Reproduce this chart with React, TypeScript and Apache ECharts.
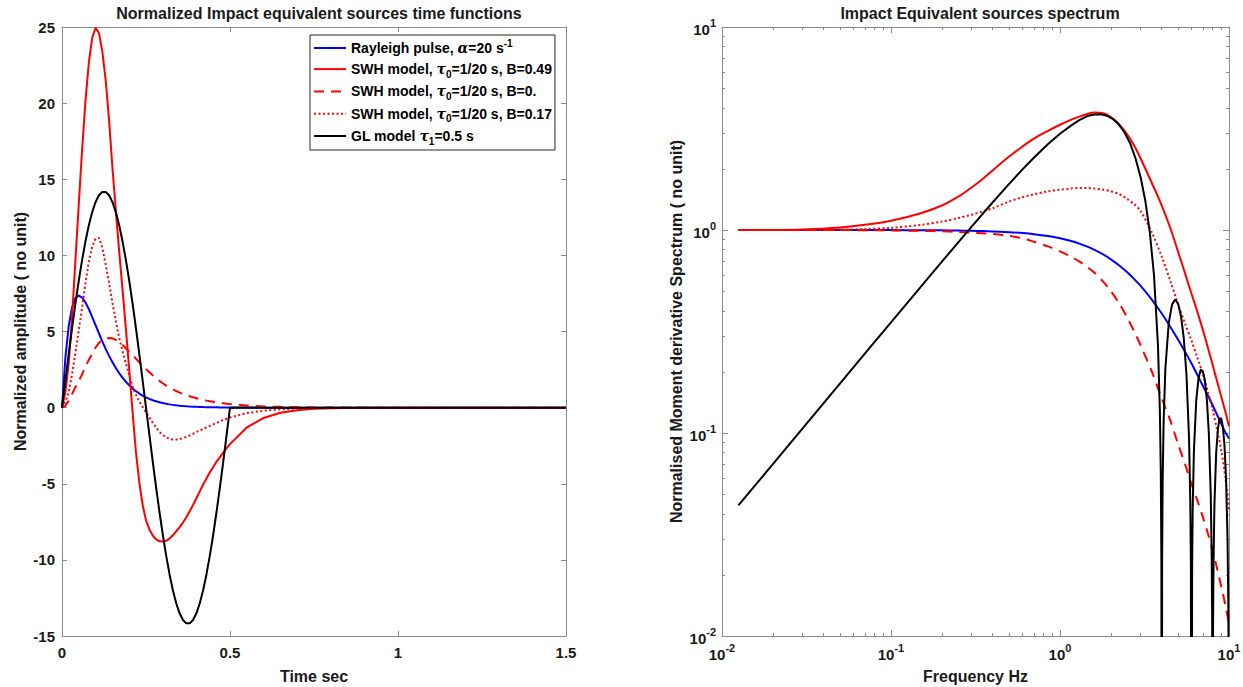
import React, { useEffect, useRef } from "react";
import * as echarts from "echarts";

// ---------- Left panel: time functions ----------
const TIME = [
  0, 0.01, 0.02, 0.03, 0.04, 0.05, 0.06, 0.07, 0.08, 0.09,
  0.1, 0.11, 0.12, 0.13, 0.14, 0.15, 0.16, 0.17, 0.18, 0.19,
  0.2, 0.21, 0.22, 0.23, 0.24, 0.25, 0.26, 0.27, 0.28, 0.29,
  0.3, 0.31, 0.32, 0.33, 0.34, 0.35, 0.36, 0.37, 0.38, 0.39,
  0.4, 0.41, 0.42, 0.43, 0.44, 0.45, 0.46, 0.47, 0.48, 0.49,
  0.5, 0.55, 0.6, 0.65, 0.7, 0.75, 0.8, 0.9, 1.0, 1.5,
];
const RAYLEIGH = [
  0, 3.27, 5.36, 6.59, 7.19, 7.36, 7.23, 6.9, 6.46, 5.95,
  5.41, 4.88, 4.35, 3.86, 3.4, 2.99, 2.61, 2.27, 1.97, 1.7,
  1.47, 1.26, 1.08, 0.925, 0.79, 0.67, 0.574, 0.488, 0.414, 0.351,
  0.3, 0.252, 0.213, 0.18, 0.151, 0.128, 0.108, 0.09, 0.076, 0.064,
  0.054, 0.045, 0.038, 0.032, 0.026, 0.022, 0.019, 0.015, 0.013, 0.011,
  0.009, 0.004, 0.001, 0, 0, 0, 0, 0, 0, 0,
];
const SWH_049 = [
  0, 1.0, 2.9, 6.0, 9.7, 13.4, 17.0, 20.2, 22.7, 24.3,
  24.95, 24.6, 23.4, 21.5, 18.9, 15.8, 13.0, 10.3, 7.8, 5.2,
  2.5, -0.3, -2.9, -4.9, -6.4, -7.4, -8.0, -8.4, -8.65, -8.78,
  -8.8, -8.75, -8.6, -8.38, -8.12, -7.85, -7.55, -7.2, -6.8, -6.4,
  -5.95, -5.5, -5.05, -4.65, -4.25, -3.9, -3.55, -3.25, -2.95, -2.65,
  -2.4, -1.3, -0.68, -0.34, -0.17, -0.08, -0.04, -0.01, 0, 0,
];
const SWH_0 = [
  0, 0.12, 0.45, 0.9, 1.35, 1.75, 2.2, 2.7, 3.15, 3.55,
  3.95, 4.25, 4.45, 4.55, 4.58, 4.55, 4.45, 4.3, 4.12, 3.9,
  3.68, 3.45, 3.22, 2.98, 2.75, 2.53, 2.32, 2.12, 1.93, 1.76,
  1.6, 1.45, 1.32, 1.2, 1.09, 0.99, 0.9, 0.82, 0.75, 0.68,
  0.62, 0.56, 0.51, 0.46, 0.42, 0.38, 0.34, 0.31, 0.28, 0.25,
  0.23, 0.14, 0.08, 0.05, 0.03, 0.015, 0.01, 0, 0, 0,
];
const SWH_017 = [
  0, 0.4, 1.0, 2.2, 3.6, 5.1, 6.6, 8.2, 9.6, 10.6,
  11.1, 11.15, 10.5, 9.4, 8.2, 6.9, 5.7, 4.6, 3.7, 2.9,
  2.1, 1.4, 0.85, 0.4, 0.05, -0.3, -0.65, -1.0, -1.3, -1.6,
  -1.8, -1.95, -2.05, -2.1, -2.1, -2.07, -2.0, -1.92, -1.83, -1.72,
  -1.6, -1.5, -1.4, -1.3, -1.2, -1.1, -1.0, -0.9, -0.81, -0.73,
  -0.65, -0.36, -0.2, -0.12, -0.06, -0.03, -0.015, 0, 0, 0,
];
const GL_TIME = [
  0, 1.78, 3.53, 5.23, 6.84, 8.35, 9.72, 10.94, 11.99, 12.85,
  13.51, 13.95, 14.17, 14.17, 13.95, 13.51, 12.85, 11.99, 10.94, 9.72,
  8.35, 6.84, 5.23, 3.53, 1.78, 0, -1.78, -3.53, -5.23, -6.84,
  -8.35, -9.72, -10.94, -11.99, -12.85, -13.51, -13.95, -14.17, -14.17, -13.95,
  -13.51, -12.85, -11.99, -10.94, -9.72, -8.35, -6.84, -5.23, -3.53, -1.78,
  0, 0, 0, 0, 0, 0, 0, 0, 0, 0,
];

// ---------- Right panel: spectra ----------
const FREQ = [
  0.0125, 0.02, 0.03, 0.05, 0.07, 0.1, 0.15, 0.2, 0.25, 0.3,
  0.35, 0.4, 0.5, 0.6, 0.7, 0.85, 1, 1.15, 1.3, 1.45,
  1.6, 1.8, 2, 2.25, 2.5, 2.75, 3, 3.5, 4, 4.5,
  5, 5.5, 6, 6.5, 7, 7.5, 8, 8.5, 9, 9.5,
  10,
];
const SPEC_RAYLEIGH = [
  1.0, 1.0, 1.0, 0.9998, 0.9995, 0.999, 0.9978, 0.996, 0.9939, 0.9912,
  0.988, 0.9845, 0.976, 0.9657, 0.954, 0.9334, 0.91, 0.8846, 0.857, 0.828,
  0.798, 0.758, 0.717, 0.667, 0.619, 0.5726, 0.53, 0.453, 0.388, 0.333,
  0.288, 0.251, 0.22, 0.193, 0.171, 0.153, 0.137, 0.123, 0.111, 0.101,
  0.094,
];
const SPEC_SWH_049 = [
  1.0, 1.0, 1.005, 1.03, 1.06, 1.11, 1.21, 1.32, 1.46, 1.62,
  1.79, 1.97, 2.3, 2.58, 2.82, 3.08, 3.3, 3.48, 3.62, 3.73,
  3.79, 3.76, 3.6, 3.3, 2.95, 2.6, 2.25, 1.7, 1.32, 1.02,
  0.78, 0.61, 0.485, 0.395, 0.322, 0.263, 0.217, 0.18, 0.151, 0.128,
  0.108,
];
const SPEC_SWH_0 = [
  1.0, 1.0, 1.0, 0.999, 0.998, 0.995, 0.99, 0.985, 0.978, 0.97,
  0.963, 0.955, 0.935, 0.91, 0.875, 0.83, 0.785, 0.742, 0.7, 0.657,
  0.615, 0.557, 0.5, 0.432, 0.37, 0.316, 0.27, 0.2, 0.148, 0.115,
  0.088, 0.07, 0.056, 0.0465, 0.0385, 0.032, 0.0265, 0.0215, 0.0175, 0.0143,
  0.0115,
];
const SPEC_SWH_017 = [
  1.0, 1.0, 1.0, 1.005, 1.01, 1.025, 1.06, 1.1, 1.145, 1.19,
  1.235, 1.28, 1.38, 1.45, 1.5, 1.55, 1.58, 1.6, 1.61, 1.61,
  1.6, 1.58, 1.55, 1.5, 1.42, 1.34, 1.24, 0.97, 0.74, 0.56,
  0.43, 0.345, 0.285, 0.235, 0.195, 0.16, 0.13, 0.104, 0.082, 0.061,
  0.042,
];
const FREQ_GL = [
  0.0125, 0.02, 0.03, 0.05, 0.07, 0.1, 0.15, 0.2, 0.3, 0.4,
  0.5, 0.6, 0.7, 0.85, 1.0, 1.15, 1.3, 1.45, 1.6, 1.75,
  1.9, 2.05, 2.2, 2.4, 2.6, 2.8, 3.0, 3.2, 3.4, 3.6,
  3.8, 3.9, 3.95, 3.98, 4.0, 4.02, 4.05, 4.1, 4.2, 4.4,
  4.6, 4.8, 5.0, 5.2, 5.4, 5.6, 5.8, 5.9, 5.95, 6.0,
  6.05, 6.1, 6.2, 6.4, 6.6, 6.8, 7.0, 7.2, 7.4, 7.6,
  7.8, 7.9, 7.95, 8.0, 8.05, 8.1, 8.2, 8.4, 8.6, 8.8,
  9.0, 9.2, 9.4, 9.6, 9.8, 9.9, 9.95, 10,
];
const SPEC_GL = [
  0.044, 0.0703, 0.1054, 0.1757, 0.246, 0.351, 0.525, 0.698, 1.04, 1.37,
  1.687, 1.99, 2.27, 2.65, 2.98, 3.25, 3.48, 3.64, 3.71, 3.715,
  3.65, 3.53, 3.35, 3.04, 2.67, 2.25, 1.82, 1.387, 0.974, 0.597,
  0.269, 0.127, 0.0616, 0.0241, 0.0001, 0.0235, 0.0576, 0.111, 0.206, 0.348,
  0.429, 0.4545, 0.433, 0.376, 0.293, 0.195, 0.0949, 0.0462, 0.0228, 0.0001,
  0.0219, 0.0429, 0.0817, 0.1447, 0.186, 0.205, 0.202, 0.181, 0.145, 0.0995,
  0.0495, 0.0244, 0.0121, 0.0001, 0.0118, 0.0231, 0.0445, 0.0804, 0.105, 0.118,
  0.118, 0.107, 0.0873, 0.0607, 0.0306, 0.0151, 0.0075, 0.0001,
];

const NAMES = [
  "Rayleigh pulse, α=20 s-1",
  "SWH model, τ0=1/20 s, B=0.49",
  "SWH model, τ0=1/20 s, B=0.",
  "SWH model, τ0=1/20 s, B=0.17",
  "GL model τ1=0.5 s",
];
const LEGEND_RICH: Record<string, string> = {
  [NAMES[0]]: "{n|Rayleigh pulse, }{g|α}{n|=20 s}{sup|-1}",
  [NAMES[1]]: "{n|SWH model, }{g|τ}{sub|0}{n|=1/20 s, B=0.49}",
  [NAMES[2]]: "{n|SWH model, }{g|τ}{sub|0}{n|=1/20 s, B=0.}",
  [NAMES[3]]: "{n|SWH model, }{g|τ}{sub|0}{n|=1/20 s, B=0.17}",
  [NAMES[4]]: "{n|GL model }{g|τ}{sub|1}{n|=0.5 s}",
};
const COLORS = ["#0000ff", "#ff0000", "#ff0000", "#ff0000", "#000000"];
const DASHES: any[] = ["solid", "solid", [10, 7], [2, 2.5], "solid"];

const FONT = "'Liberation Sans', Arial, Helvetica, sans-serif";
const AX = "#8c8c8c";
const TXT = "#1a1a1a";

const zip = (xs: number[], ys: number[]) => xs.map((x, i) => [x, ys[i]]);

export default function App() {
  const ref = useRef<HTMLDivElement>(null);
  useEffect(() => {
    if (!ref.current) return;
    const chart = echarts.init(ref.current, undefined, { renderer: "svg" });

    const label = { color: TXT, fontFamily: FONT, fontWeight: "bold", fontSize: 15 };
    const nameStyle = { color: TXT, fontFamily: FONT, fontWeight: "bold", fontSize: 16 };
    const line = { show: true, onZero: false, lineStyle: { color: AX, width: 1 } };
    const tick = (len: number) => ({ show: true, inside: true, length: len, lineStyle: { color: AX, width: 1 } });
    const logRich = {
      b: { ...label, lineHeight: 20, verticalAlign: "bottom" },
      s: { ...label, fontSize: 11, lineHeight: 13, verticalAlign: "top" },
    };
    const logFmt = (v: number) => `{b|10}{s|${Math.round(Math.log10(v))}}`;

    const minorVals: number[] = [];
    [-2, -1, 0].forEach((d) => [2, 3, 4, 5, 6, 7, 8, 9].forEach((k) => minorVals.push(d + Math.log10(k))));

    const leftX = { type: "value", gridIndex: 0, min: 0, max: 1.5, interval: 0.5, splitLine: { show: false } };
    const leftY = { type: "value", gridIndex: 0, min: -15, max: 25, interval: 5, splitLine: { show: false } };
    const logX = { type: "log", logBase: 10, gridIndex: 1, min: 0.01, max: 10, splitLine: { show: false }, minorTick: { show: false } };
    const logY = { type: "log", logBase: 10, gridIndex: 1, min: 0.01, max: 10, splitLine: { show: false }, minorTick: { show: false } };
    const minorAx = {
      type: "value", gridIndex: 1, min: -2, max: 1,
      axisLine: { show: false, onZero: false },
      axisLabel: { show: false },
      axisTick: { ...tick(3), customValues: minorVals },
      splitLine: { show: false },
    };

    const leftSeries = [RAYLEIGH, SWH_049, SWH_0, SWH_017, GL_TIME].map((vals, i) => ({
      name: NAMES[i], type: "line", xAxisIndex: 0, yAxisIndex: 0,
      data: zip(TIME, vals), symbol: "none", showSymbol: false, silent: true,
      lineStyle: { color: COLORS[i], width: 2, type: DASHES[i] },
      itemStyle: { color: COLORS[i] }, z: 2 + i,
    }));
    const rightSeries = [
      [FREQ, SPEC_RAYLEIGH], [FREQ, SPEC_SWH_049], [FREQ, SPEC_SWH_0], [FREQ, SPEC_SWH_017], [FREQ_GL, SPEC_GL],
    ].map(([xs, ys], i) => ({
      name: NAMES[i], type: "line", xAxisIndex: 2, yAxisIndex: 2,
      data: zip(xs, ys), symbol: "none", showSymbol: false, silent: true,
      smooth: i === 4 ? false : 0.3,
      lineStyle: { color: COLORS[i], width: 2, type: DASHES[i] },
      itemStyle: { color: COLORS[i] }, z: 2 + i,
    }));

    chart.setOption({
      animation: false,
      backgroundColor: "#ffffff",
      title: [
        { text: "Normalized Impact equivalent sources time functions", left: 314, top: 0, textAlign: "center", textStyle: nameStyle },
        { text: "Impact Equivalent sources spectrum", left: 975, top: 0, textAlign: "center", textStyle: nameStyle },
      ],
      grid: [
        { left: 62, top: 27, width: 504, height: 609, containLabel: false, outerBoundsMode: "none" },
        { left: 722, top: 27, width: 507, height: 609, containLabel: false, outerBoundsMode: "none" },
      ],
      legend: {
        data: NAMES, orient: "vertical", left: 310, top: 35,
        itemWidth: 32, itemHeight: 22, itemGap: 3.5,
        padding: [3, 3, 4, 3],
        backgroundColor: "#ffffff", borderColor: "#262626", borderWidth: 1, borderRadius: 0,
        selectedMode: false,
        itemStyle: { opacity: 0, borderWidth: 0 },
        formatter: (name: string) => LEGEND_RICH[name] || name,
        textStyle: {
          color: "#000", fontFamily: FONT, fontWeight: "bold", fontSize: 14,
          rich: {
            n: { color: "#000", fontFamily: FONT, fontWeight: "bold", fontSize: 14, lineHeight: 20, verticalAlign: "middle" },
            g: { color: "#000", fontFamily: "'DejaVu Serif', serif", fontStyle: "italic", fontSize: 14, lineHeight: 20, verticalAlign: "middle" },
            sup: { color: "#000", fontFamily: FONT, fontWeight: "bold", fontSize: 10, lineHeight: 13, verticalAlign: "top" },
            sub: { color: "#000", fontFamily: FONT, fontWeight: "bold", fontSize: 10, lineHeight: 13, verticalAlign: "bottom" },
          },
        },
      },
      xAxis: [
        {
          ...leftX, position: "bottom", axisLine: line, axisTick: tick(5),
          axisLabel: { ...label, margin: 9 },
          name: "Time sec", nameLocation: "middle", nameGap: 32, nameTextStyle: nameStyle,
        },
        { ...leftX, position: "top", axisLine: line, axisTick: tick(5), axisLabel: { show: false } },
        {
          ...logX, position: "bottom", axisLine: line, axisTick: tick(6),
          axisLabel: { margin: 6, formatter: logFmt, rich: logRich },
          name: "Frequency Hz", nameLocation: "middle", nameGap: 32, nameTextStyle: nameStyle,
        },
        { ...logX, position: "top", axisLine: line, axisTick: tick(6), axisLabel: { show: false } },
        { ...minorAx, position: "bottom" },
        { ...minorAx, position: "top" },
      ],
      yAxis: [
        {
          ...leftY, position: "left", axisLine: line, axisTick: tick(5),
          axisLabel: { ...label, margin: 7 },
          name: "Normalized amplitude ( no unit)", nameLocation: "middle", nameGap: 34, nameTextStyle: nameStyle,
        },
        { ...leftY, position: "right", axisLine: line, axisTick: tick(5), axisLabel: { show: false } },
        {
          ...logY, position: "left", axisLine: line, axisTick: tick(6),
          axisLabel: { margin: 6, formatter: logFmt, rich: logRich },
          name: "Normalised Moment derivative Spectrum ( no unit)", nameLocation: "middle", nameGap: 38, nameTextStyle: nameStyle,
        },
        { ...logY, position: "right", axisLine: line, axisTick: tick(6), axisLabel: { show: false } },
        { ...minorAx, position: "left" },
        { ...minorAx, position: "right" },
      ],
      series: [...leftSeries, ...rightSeries],
    });
    return () => chart.dispose();
  }, []);
  return (
    <div
      ref={ref}
      style={{ position: "fixed", left: 0, top: 0, width: 1243, height: 687, background: "#fff" }}
    />
  );
}
